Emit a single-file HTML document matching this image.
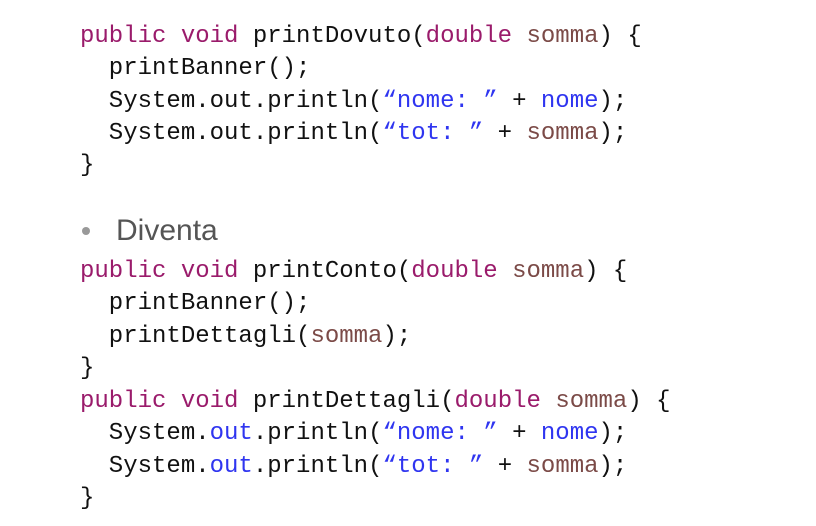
<!DOCTYPE html>
<html><head><meta charset="utf-8"><style>
body{margin:0;width:816px;height:526px;background:#fff;position:relative;overflow:hidden}
.l{position:absolute;left:80px;font-family:"Liberation Mono",monospace;font-size:24px;line-height:32px;white-space:pre;color:#111}
.k{color:#9a1b6b}.v{color:#7b4a47}.s{color:#2f35f0}
.b{position:absolute;left:116px;top:212px;font-family:"Liberation Sans",sans-serif;font-size:30px;line-height:38px;color:#555}
.dot{position:absolute;left:82px;top:227px;width:8px;height:8px;border-radius:50%;background:#999}
</style></head><body>
<div class="l" style="top:21px"><span class="k">public</span> <span class="k">void</span> printDovuto(<span class="k">double</span> <span class="v">somma</span>) {</div>
<div class="l" style="top:53px">  printBanner();</div>
<div class="l" style="top:86px">  System.out.println(<span class="s">“nome: ”</span> + <span class="s">nome</span>);</div>
<div class="l" style="top:118px">  System.out.println(<span class="s">“tot: ”</span> + <span class="v">somma</span>);</div>
<div class="l" style="top:150px">}</div>
<div class="dot"></div>
<div class="b">Diventa</div>
<div class="l" style="top:256px"><span class="k">public</span> <span class="k">void</span> printConto(<span class="k">double</span> <span class="v">somma</span>) {</div>
<div class="l" style="top:288px">  printBanner();</div>
<div class="l" style="top:321px">  printDettagli(<span class="v">somma</span>);</div>
<div class="l" style="top:353px">}</div>
<div class="l" style="top:386px"><span class="k">public</span> <span class="k">void</span> printDettagli(<span class="k">double</span> <span class="v">somma</span>) {</div>
<div class="l" style="top:418px">  System.<span class="s">out</span>.println(<span class="s">“nome: ”</span> + <span class="s">nome</span>);</div>
<div class="l" style="top:451px">  System.<span class="s">out</span>.println(<span class="s">“tot: ”</span> + <span class="v">somma</span>);</div>
<div class="l" style="top:483px">}</div>
</body></html>
